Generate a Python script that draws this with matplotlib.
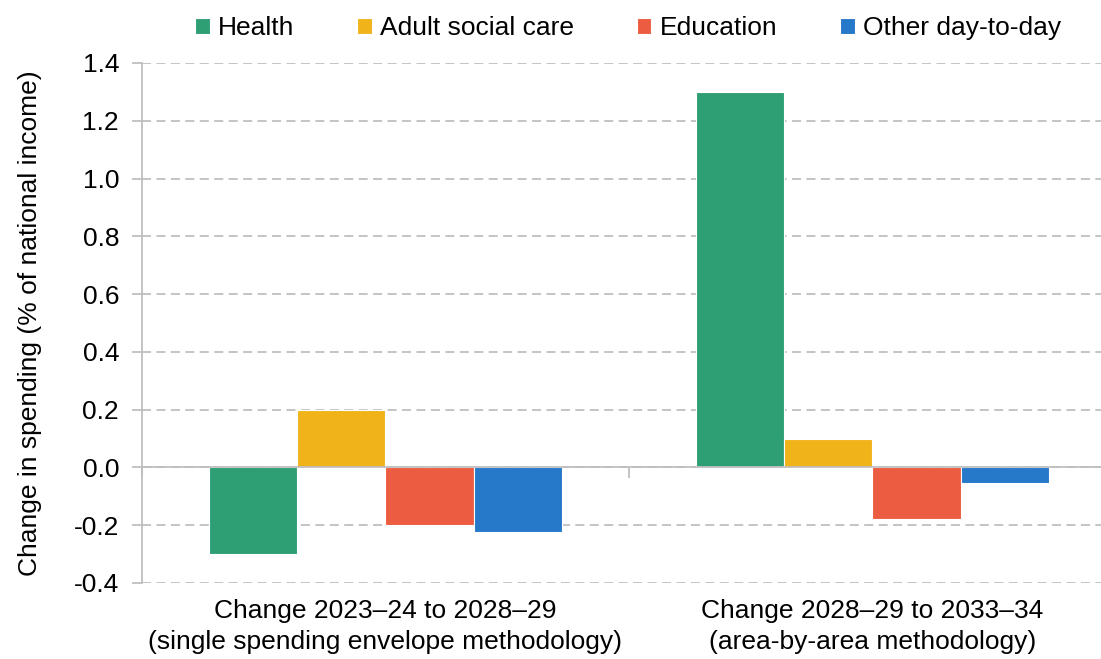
import numpy as np
import matplotlib.pyplot as plt

plt.rcParams['font.family'] = ['Liberation Sans', 'DejaVu Sans']

categories = ['Change 2023\u201324 to 2028\u201329\n(single spending envelope methodology)',
              'Change 2028\u201329 to 2033\u201334\n(area-by-area methodology)']
series = ['Health', 'Adult social care', 'Education', 'Other day-to-day']
health = [-0.30, 1.30]
adult_care = [0.20, 0.10]
education = [-0.20, -0.177]
other = [-0.225, -0.055]
colors = ['#2E9E74', '#F0B41A', '#EB5C40', '#2678C8']

fs = 19

fig = plt.figure(figsize=(11.01, 6.59), dpi=100)
ax = fig.add_axes([142 / 1101, 1 - 583 / 659, 974 / 1101, 520 / 659])

x = np.arange(len(categories))
w = 0.1816
values = [health, adult_care, education, other]
for i, (name, vals, c) in enumerate(zip(series, values, colors)):
    ax.bar(x + (i - 1.5) * w, vals, w, color=c, label=name,
           edgecolor='white', linewidth=0.8, zorder=3)

ax.set_xlim(-0.5, 1.5)
ax.set_ylim(-0.4, 1.4)
yt = np.arange(-0.4, 1.41, 0.2)
ax.set_yticks(yt)
ax.set_yticklabels([f'{v:.1f}' for v in yt], fontsize=fs)
ax.yaxis.grid(True, color='#BFBFBF', linestyle=(0, (5, 3)), linewidth=1.3)
ax.set_axisbelow(True)

for s in ['top', 'right']:
    ax.spines[s].set_visible(False)
ax.spines['left'].set_color('#BFBFBF')
ax.spines['left'].set_linewidth(1.3)
ax.spines['bottom'].set_position(('data', 0))
ax.spines['bottom'].set_color('#BFBFBF')
ax.spines['bottom'].set_linewidth(1.3)
ax.spines['bottom'].set_zorder(4)
ax.tick_params(axis='y', length=7, color='#BFBFBF', width=1.3, pad=9.5)
ax.set_xticks([-0.5, 0.5, 1.5])
ax.set_xticklabels([])
ax.tick_params(axis='x', length=8, color='#BFBFBF', width=1.3)

for xi, lab in zip(x, categories):
    ax.text(xi, -0.455, lab, ha='center', va='top', fontsize=fs,
            linespacing=1.38)

ax.set_ylabel('Change in spending (% of national income)', fontsize=fs)
ax.yaxis.set_label_coords(-0.103, 0.5)

fig.legend(loc='center', bbox_to_anchor=(628 / 1101, 1 - 28 / 659), ncol=4, frameon=False,
           fontsize=fs, handlelength=0.55, handleheight=0.55, handletextpad=0.3,
           columnspacing=2.4, borderaxespad=0, borderpad=0)

fig.savefig('out.png', dpi=100)
